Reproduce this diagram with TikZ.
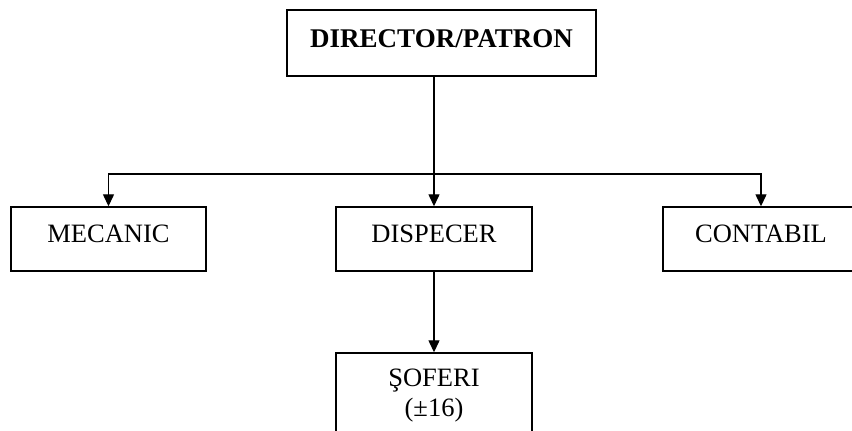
\documentclass[tikz,border=0pt]{standalone}
\usepackage{fontspec}
\setmainfont{Liberation Serif}
\usetikzlibrary{arrows.meta}
\tikzset{
  box/.style={draw=black, line width=1.4pt, rectangle, inner sep=0pt, fill=white,
              font=\fontsize{26.5}{30}\selectfont},
  txt/.style={inner sep=0pt, font=\fontsize{26.5}{30}\selectfont},
  conn/.style={draw=black, line width=1.3pt},
  arr/.style={conn, -{Triangle[width=11pt,length=12pt]}}
}
\begin{document}
\begin{tikzpicture}[x=1pt,y=-1pt]
\fill[white] (0,0) rectangle (852,431);
\clip (0,0) rectangle (852,431);
\node[box, minimum width=309pt, text height=37pt, text depth=29pt,
      font=\fontsize{27}{30}\selectfont\bfseries] (director) at (441.5,43) {DIRECTOR/PATRON};
\node[box, minimum width=195pt, text height=35pt, text depth=29pt] (mecanic) at (108.5,239) {MECANIC};
\node[box, minimum width=196pt, text height=35pt, text depth=29pt] (dispecer) at (434,239) {DISPECER};
\node[box, minimum width=196pt, text height=35pt, text depth=29pt] (contabil) at (761,239) {CONTABIL};
\node[box, minimum width=196pt, minimum height=90pt] (soferi) at (434,398) {};
\node[txt, anchor=base] (sof1) at ([yshift=-34pt]soferi.north) {ŞOFERI};
\node[txt, anchor=base] (sof2) at ([yshift=-64pt]soferi.north) {(±16)};
\coordinate (bus) at (434,174);
\draw[conn] (director.south -| bus) -- (bus);
\draw[arr] (bus) -| (mecanic.north);
\draw[arr] (bus) -| (contabil.north);
\draw[arr] (bus) -- (dispecer.north);
\draw[arr] (dispecer.south) -- (soferi.north);
\end{tikzpicture}
\end{document}
